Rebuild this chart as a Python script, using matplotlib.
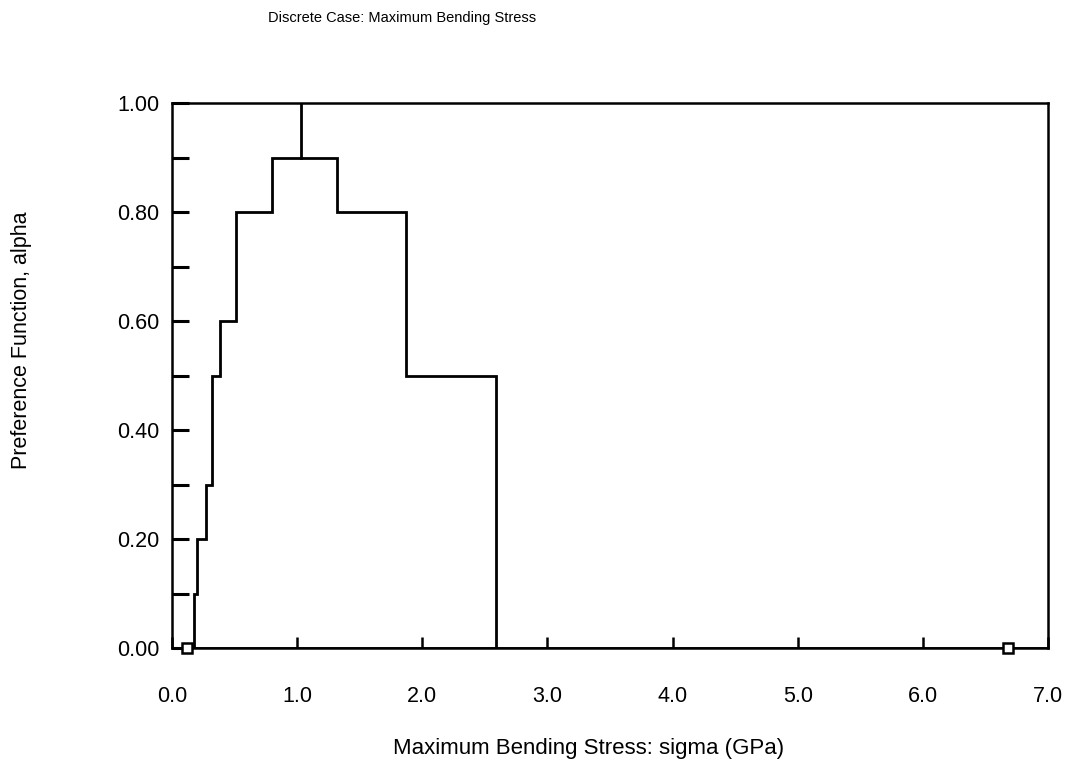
import matplotlib
matplotlib.use("Agg")
import matplotlib.pyplot as plt
from matplotlib.ticker import MultipleLocator, FormatStrFormatter

plt.rcParams['font.family'] = ['Liberation Sans', 'DejaVu Sans']

# step edges (GPa) and the preference level held between consecutive edges
edges = [0.18, 0.20, 0.27, 0.32, 0.38, 0.51, 0.80, 1.32, 1.87, 2.59]
levels = [0.1, 0.2, 0.3, 0.5, 0.6, 0.8, 0.9, 0.8, 0.5]

# peak location, drawn as a spike from 0.9 to 1.0
peak_x = 1.03
peak_lo, peak_hi = 0.9, 1.0

# end points of the support interval
end_x = [0.12, 6.68]
end_y = [0.0, 0.0]

xs = [edges[0]]
ys = [0.0]
for i, lev in enumerate(levels):
    xs += [edges[i], edges[i + 1]]
    ys += [lev, lev]
xs.append(edges[-1])
ys.append(0.0)

fig = plt.figure(figsize=(10.72, 7.67), dpi=100)
ax = fig.add_axes([0.1604, 0.1551, 0.8172, 0.7106])

ax.plot(xs, ys, color='black', lw=2.0, solid_joinstyle='miter')
ax.plot([peak_x, peak_x], [peak_lo, peak_hi], color='black', lw=2.0)
ax.plot([0, 7.0], [0, 0], color='black', lw=2.0)
ax.plot(end_x, end_y, ls='none', marker='s', ms=7, mfc='white',
        mec='black', mew=1.8, clip_on=False, zorder=5)

ax.set_xlim(0, 7.0)
ax.set_ylim(0, 1.0)

ax.xaxis.set_major_locator(MultipleLocator(1.0))
ax.xaxis.set_major_formatter(FormatStrFormatter('%.1f'))
ax.yaxis.set_major_locator(MultipleLocator(0.2))
ax.yaxis.set_minor_locator(MultipleLocator(0.1))
ax.yaxis.set_major_formatter(FormatStrFormatter('%.2f'))

ax.tick_params(axis='x', which='major', direction='in', length=8, width=1.8,
               pad=27, labelsize=15.5)
ax.tick_params(axis='y', which='both', direction='in', length=12, width=2.2,
               pad=9, labelsize=15.5)

for s in ax.spines.values():
    s.set_linewidth(1.8)

ax.set_xlabel("Maximum Bending Stress: sigma (GPa)", fontsize=16)
ax.xaxis.set_label_coords(0.475, -0.165)
ax.set_ylabel("Preference Function, alpha", fontsize=15.5)
ax.yaxis.set_label_coords(-0.16, 0.565)
fig.text(0.25, 0.977, "Discrete Case: Maximum Bending Stress", fontsize=10.5,
         ha='left', va='center')

fig.savefig("out.png", dpi=100)
